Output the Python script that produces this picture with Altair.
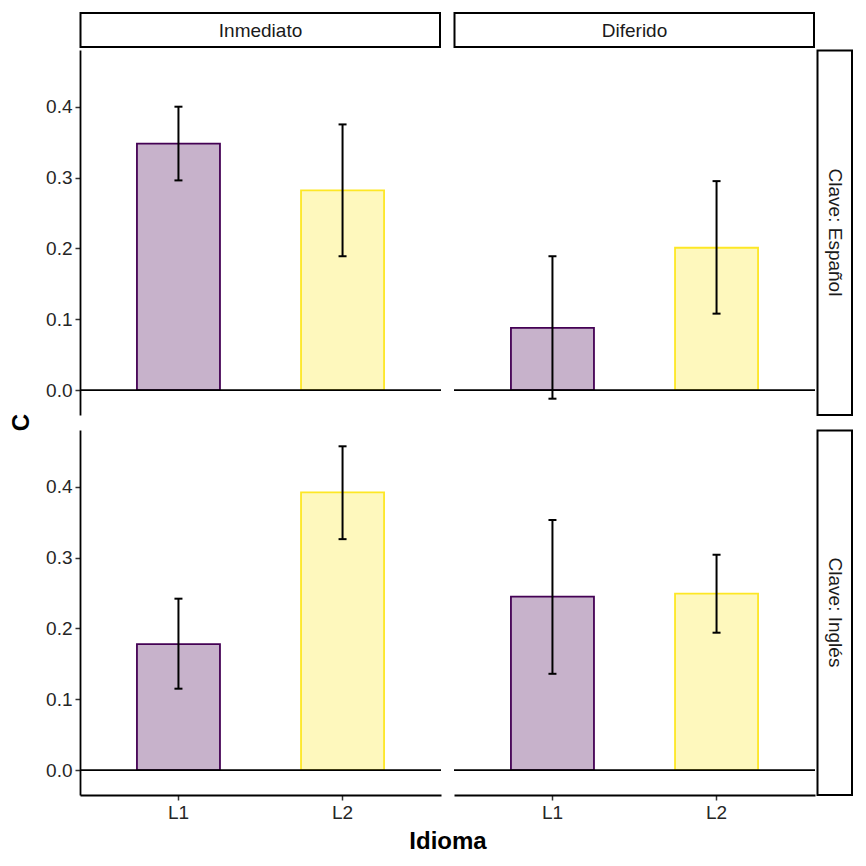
import altair as alt
import pandas as pd

# ---- data ----
momentos = ["Inmediato", "Diferido"]
claves = ["Clave: Español", "Clave: Inglés"]
idiomas = ["L1", "L2"]
colores = ["#440154", "#FDE725"]

# Clave: Español
c_esp_inm = [0.348, 0.282]
lo_esp_inm = [0.296, 0.189]
hi_esp_inm = [0.400, 0.375]
c_esp_dif = [0.088, 0.201]
lo_esp_dif = [-0.012, 0.108]
hi_esp_dif = [0.189, 0.295]
# Clave: Inglés
c_ing_inm = [0.178, 0.392]
lo_ing_inm = [0.115, 0.326]
hi_ing_inm = [0.242, 0.457]
c_ing_dif = [0.245, 0.249]
lo_ing_dif = [0.136, 0.194]
hi_ing_dif = [0.353, 0.304]

y_ticks = [0.0, 0.1, 0.2, 0.3, 0.4]
y_domain = [-0.035, 0.48]

FONT = "Liberation Sans"
PW, PH = 361, 365
LABEL_SIZE = 19
LABEL_COLOR = "#262626"


def make_df(c, lo, hi):
    return pd.DataFrame({"Idioma": idiomas, "C": c, "lo": lo, "hi": hi})


def panel(df, show_y, show_x, y_title=False, x_title=False):
    if show_x:
        x_axis = alt.Axis(
            title="Idioma" if x_title else None,
            labelAngle=0, labelFontSize=LABEL_SIZE, labelFont=FONT, labelColor=LABEL_COLOR,
            labelPadding=3, tickSize=5, tickWidth=1.5, tickColor="#333333",
            domainColor="black", domainWidth=1.8, grid=False,
            titleFontSize=24, titleFont=FONT, titleFontWeight="bold", titleColor="black",
            titleX=367.5, titleY=53, titleAlign="center", titleBaseline="alphabetic",
        )
    else:
        x_axis = None
    if show_y:
        y_axis = alt.Axis(
            title="C" if y_title else None, values=y_ticks, format=".1f",
            labelFontSize=LABEL_SIZE, labelFont=FONT, labelColor=LABEL_COLOR, labelPadding=3,
            tickSize=5, tickWidth=1.5, tickColor="#333333",
            domainColor="black", domainWidth=1.8, grid=False,
            titleFontSize=24, titleFont=FONT, titleFontWeight="bold", titleColor="black",
            titleX=-59, titleY=372, titleAlign="center", titleBaseline="middle", titleAngle=270,
        )
    else:
        y_axis = None

    xs = alt.Scale(domain=idiomas, paddingInner=0.494, paddingOuter=0.347)
    ys = alt.Scale(domain=y_domain, nice=False, zero=False)
    x = alt.X("Idioma:N", scale=xs, axis=x_axis)
    col = alt.Color("Idioma:N", scale=alt.Scale(domain=idiomas, range=colores), legend=None)

    base = alt.Chart(df)
    bars = base.mark_bar(fillOpacity=0.3, strokeOpacity=1, strokeWidth=1.8).encode(
        x=x, y=alt.Y("C:Q", scale=ys, axis=y_axis), fill=col, stroke=col
    )
    zero = base.mark_rule(color="black", strokeWidth=1.8).encode(
        y=alt.Y("z:Q", scale=ys, axis=y_axis)
    ).transform_calculate(z="0").transform_filter(alt.datum.Idioma == idiomas[0])
    err = base.mark_rule(color="black", strokeWidth=2).encode(
        x=x, y=alt.Y("lo:Q", scale=ys, axis=y_axis), y2="hi:Q"
    )
    cap_lo = base.mark_tick(color="black", size=8, thickness=2, opacity=1).encode(
        x=x, y=alt.Y("lo:Q", scale=ys, axis=y_axis)
    )
    cap_hi = base.mark_tick(color="black", size=8, thickness=2, opacity=1).encode(
        x=x, y=alt.Y("hi:Q", scale=ys, axis=y_axis)
    )
    return alt.layer(bars, zero, err, cap_lo, cap_hi).properties(width=PW, height=PH)


def top_strip(label):
    d = pd.DataFrame({"t": [label]})
    b = alt.Chart(d)
    r = b.mark_rect(fill="white", stroke="black", strokeWidth=2).encode(
        x=alt.value(0.5), x2=alt.value(PW - 1), y=alt.value(0), y2=alt.value(34)
    )
    t = b.mark_text(fontSize=LABEL_SIZE, font=FONT, color="#1a1a1a", baseline="middle", align="center").encode(
        x=alt.value(PW / 2), y=alt.value(17.5), text="t:N"
    )
    return alt.layer(r, t).properties(width=PW, height=22)


def right_strip(label):
    d = pd.DataFrame({"t": [label]})
    b = alt.Chart(d)
    r = b.mark_rect(fill="white", stroke="black", strokeWidth=2).encode(
        x=alt.value(-10.5), x2=alt.value(24), y=alt.value(0.5), y2=alt.value(PH)
    )
    t = b.mark_text(fontSize=LABEL_SIZE, font=FONT, color="#1a1a1a", baseline="middle",
                    align="center", angle=90).encode(
        x=alt.value(6.75), y=alt.value(PH / 2), text="t:N"
    )
    return alt.layer(r, t).properties(width=24, height=PH)


def blank():
    d = pd.DataFrame({"t": [""]})
    return alt.Chart(d).mark_text(baseline="top", fontSize=5).encode(
        x=alt.value(5), y=alt.value(8), text="t:N"
    ).properties(width=24, height=22)


charts = [
    top_strip(momentos[0]), top_strip(momentos[1]), blank(),
    panel(make_df(c_esp_inm, lo_esp_inm, hi_esp_inm), True, False, y_title=True),
    panel(make_df(c_esp_dif, lo_esp_dif, hi_esp_dif), False, False),
    right_strip(claves[0]),
    panel(make_df(c_ing_inm, lo_ing_inm, hi_ing_inm), True, True, x_title=True),
    panel(make_df(c_ing_dif, lo_ing_dif, hi_ing_dif), False, True),
    right_strip(claves[1]),
]

chart = alt.concat(
    *charts, columns=3, spacing={"row": 15, "column": 13}, bounds="flush"
).resolve_scale(
    x="independent", y="independent", color="independent", fill="independent", stroke="independent"
).configure(
    padding={"left": 9, "top": 12, "right": 5, "bottom": 5},
    background="white",
    font=FONT,
).configure_view(stroke=None)

chart.save("out.html", embed_options={"renderer": "svg", "actions": False})
